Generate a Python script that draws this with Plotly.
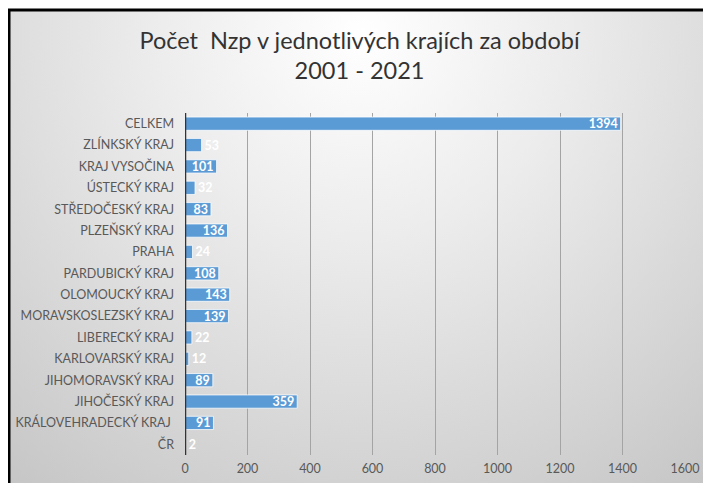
import base64
import plotly.graph_objects as go

# ---- data (bottom to top as drawn) ----
regions = [
    "ČR",
    "KRÁLOVEHRADECKÝ KRAJ\u00a0",
    "JIHOČESKÝ KRAJ",
    "JIHOMORAVSKÝ KRAJ",
    "KARLOVARSKÝ KRAJ",
    "LIBERECKÝ KRAJ",
    "MORAVSKOSLEZSKÝ KRAJ",
    "OLOMOUCKÝ KRAJ",
    "PARDUBICKÝ KRAJ",
    "PRAHA",
    "PLZEŇSKÝ KRAJ",
    "STŘEDOČESKÝ KRAJ",
    "ÚSTECKÝ KRAJ",
    "KRAJ VYSOČINA",
    "ZLÍNKSKÝ KRAJ",
    "CELKEM",
]
counts = [2, 91, 359, 89, 12, 22, 139, 143, 108, 24, 136, 83, 32, 101, 53, 1394]
x_ticks = [0, 200, 400, 600, 800, 1000, 1200, 1400, 1600]
title_text = "Počet  Nzp v jednotlivých krajích za období<br>2001 - 2021"

# ---- layout geometry (page body has an 8px margin) ----
W, H = 703, 475
ML, MR, MT, MB = 177, 26, 105, 28
PW, PH = W - ML - MR, H - MT - MB


def px_to_paper_x(px):
    return (px - ML) / PW


def px_to_paper_y(py):
    return (H - MB - py) / PH


# radial gradient background as an SVG data URI
svg = (
    '<svg xmlns="http://www.w3.org/2000/svg" width="702" height="471" '
    'preserveAspectRatio="none">'
    '<defs><radialGradient id="g" cx="0.5" cy="0.05" r="0.85" '
    'gradientTransform="translate(0.5 0.05) scale(1 1.45) translate(-0.5 -0.05)">'
    '<stop offset="0" stop-color="#ffffff"/>'
    '<stop offset="0.35" stop-color="#ececec"/>'
    '<stop offset="1" stop-color="#c4c4c4"/>'
    '</radialGradient></defs>'
    '<rect width="702" height="471" fill="url(#g)"/></svg>'
)
svg_uri = "data:image/svg+xml;base64," + base64.b64encode(svg.encode()).decode()

label_pos = ["inside" if v >= 80 else "outside" for v in counts]
lbl_font = dict(family="Lato", size=12.5, color="white", weight="bold")

fig = go.Figure()
fig.add_trace(
    go.Bar(
        y=regions,
        x=counts,
        orientation="h",
        marker=dict(color="#5b9bd5", line=dict(color="rgba(255,255,255,0.75)", width=1)),
        text=counts,
        textposition=label_pos,
        insidetextanchor="end",
        textangle=0,
        constraintext="none",
        textfont=lbl_font,
        outsidetextfont=lbl_font,
        insidetextfont=lbl_font,
        cliponaxis=False,
        hoverinfo="x+y",
    )
)

bx0 = px_to_paper_x(2)
bx1 = px_to_paper_x(W)
by0 = px_to_paper_y(H)
by1 = px_to_paper_y(3)

fig.update_layout(
    width=W,
    height=H,
    margin=dict(l=ML, r=MR, t=MT, b=MB, autoexpand=False),
    paper_bgcolor="white",
    plot_bgcolor="rgba(0,0,0,0)",
    showlegend=False,
    bargap=0.38,
    title=dict(
        text=title_text,
        x=0.5,
        xref="container",
        xanchor="center",
        y=1 - 40.5 / H,
        yref="container",
        yanchor="middle",
        font=dict(family="Lato", size=23.5, color="#333333"),
    ),
    font=dict(family="Lato", size=12.5, color="#595959"),
    xaxis=dict(
        range=[0, 1600],
        tickvals=x_ticks,
        showgrid=True,
        gridcolor="#a4a4a4",
        gridwidth=1.3,
        zeroline=False,
        showline=False,
        ticks="",
        ticklabelstandoff=4,
        tickfont=dict(family="Lato", size=12.5, color="#595959"),
        fixedrange=True,
    ),
    yaxis=dict(
        categoryorder="array",
        categoryarray=regions,
        showgrid=False,
        zeroline=False,
        showline=False,
        ticks="",
        ticklabelstandoff=10,
        tickfont=dict(family="Lato", size=12.5, color="#595959"),
        fixedrange=True,
    ),
    images=[
        dict(
            source=svg_uri,
            xref="paper",
            yref="paper",
            x=bx0,
            y=by1,
            sizex=bx1 - bx0,
            sizey=by1 - by0,
            xanchor="left",
            yanchor="top",
            sizing="stretch",
            layer="below",
        )
    ],
    shapes=[
        # chart frame: top and left black edges
        dict(type="line", xref="paper", yref="paper", x0=px_to_paper_x(0), x1=bx1,
             y0=px_to_paper_y(2), y1=px_to_paper_y(2), line=dict(color="black", width=3)),
        dict(type="line", xref="paper", yref="paper", x0=px_to_paper_x(1), x1=px_to_paper_x(1),
             y0=px_to_paper_y(1), y1=by0, line=dict(color="black", width=3)),
        # category axis line at zero
        dict(type="line", xref="x", yref="paper", x0=0, x1=0, y0=0, y1=1,
             line=dict(color="#333333", width=2.5), layer="above"),
    ],
)

fig.write_html("out.html")
